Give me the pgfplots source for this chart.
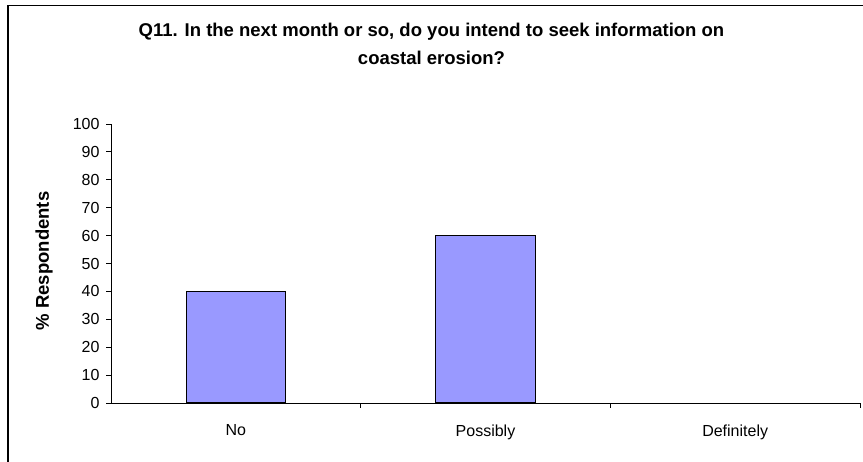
\documentclass[border=0pt]{standalone}
\usepackage{pgfplots}
\pgfplotsset{compat=1.18}
\usepackage{fontspec}
\setmainfont{Liberation Sans}
\definecolor{barblue}{HTML}{9999FF}
\begin{document}
\begin{tikzpicture}[x=1pt,y=1pt]
\useasboundingbox (0,0) rectangle (863,462);
\draw[line width=1.2pt] (8,0) -- (8,456.5) -- (863,456.5);
\node[align=center,font=\fontsize{18.5}{28}\selectfont\bfseries] at (431.5,418)
  {Q11. In the next month or so, do you intend to seek information on\\coastal erosion?};
\node[rotate=90,font=\fontsize{18.5}{22}\selectfont\bfseries] at (44,201) {\% Respondents};
\begin{axis}[
  at={(111pt,59pt)}, anchor=south west,
  scale only axis, width=749pt, height=279pt,
  xmin=-0.5, xmax=2.5, ymin=0, ymax=100,
  axis x line*=bottom, axis y line*=left,
  axis line style={line width=0.8pt, -},
  xtick={0,1,2}, xticklabels={No,Possibly,Definitely},
  major x tick style={draw=none},
  minor xtick={0.5,1.5,2.5},
  ytick={0,10,...,100},
  tick align=outside,
  major tick length=5pt, minor tick length=5pt,
  tick style={line width=0.8pt, black},
  every tick label/.append style={font=\fontsize{16}{19}\selectfont},
  /pgf/number format/assume math mode=true,
  xticklabel style={yshift=-13pt},
  yticklabel style={xshift=-3pt},
  clip=false,
]
\addplot[ybar, bar width=99.5pt, fill=barblue, draw=black, line width=1pt]
  coordinates {(0,40) (1,60)};
\end{axis}
\end{tikzpicture}
\end{document}
